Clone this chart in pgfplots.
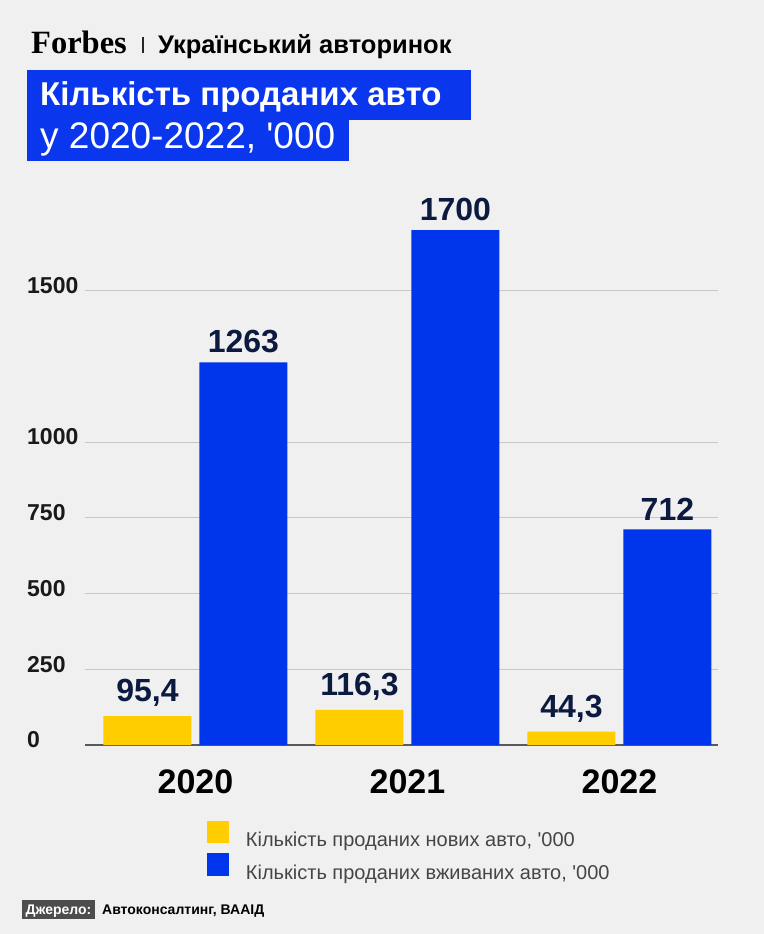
\documentclass[border=0pt]{standalone}
\usepackage{fontspec}
\setmainfont{Liberation Sans}[Ligatures=TeXOff]
\newfontfamily\forbesfont{Liberation Serif}
\usepackage{pgfplots}
\pgfplotsset{compat=1.18}
\definecolor{bg}{HTML}{F0F0F0}
\definecolor{tblue}{HTML}{0A37EE}
\definecolor{bblue}{HTML}{0036EB}
\definecolor{byellow}{HTML}{FFCD00}
\definecolor{navy}{HTML}{0C1A40}
\definecolor{legtext}{HTML}{454545}
\definecolor{srcbox}{HTML}{4D4D4D}
\begin{document}
\begin{tikzpicture}
\path[use as bounding box, fill=bg] (0,0) rectangle (764bp,-934bp);
% header
\node[anchor=base west, inner sep=0pt] at (31bp,-53bp) {\forbesfont\bfseries\fontsize{32.5bp}{32bp}\selectfont Forbes};
\draw[line width=1.6bp, black!85] (143bp,-37bp) -- (143bp,-53bp);
\node[anchor=base west, inner sep=0pt] at (158bp,-53bp) {\bfseries\fontsize{25.5bp}{25bp}\selectfont Український авторинок};
\fill[tblue] (27bp,-70bp) rectangle (471bp,-119.5bp);
\fill[tblue] (27bp,-119bp) rectangle (349bp,-161bp);
\node[anchor=base west, inner sep=0pt, text=white] at (40bp,-105bp) {\bfseries\fontsize{33bp}{33bp}\selectfont Кількість проданих авто};
\node[anchor=base west, inner sep=0pt, text=white] at (40bp,-148bp) {\fontsize{37bp}{37bp}\selectfont у 2020-2022, '000};
% source
\fill[srcbox] (22bp,-900bp) rectangle (95bp,-919bp);
\node[anchor=base, inner sep=0pt, text=white] at (58.5bp,-914bp) {\bfseries\fontsize{14bp}{14bp}\selectfont Джерело:};
\node[anchor=base west, inner sep=0pt] at (102bp,-914bp) {\bfseries\fontsize{14bp}{14bp}\selectfont Автоконсалтинг, ВААІД};
\begin{axis}[
  at={(85bp,-745bp)}, anchor=south west,
  scale only axis, width=633bp, height=515bp,
  xmin=-0.521, xmax=2.465, ymin=0, ymax=1700,
  clip=false,
  ybar, bar width=88bp,
  axis x line=bottom, axis y line=left,
  axis line style={-},
  x axis line style={draw=black!65, line width=1.5bp},
  y axis line style={draw=none},
  major tick length=0pt,
  xtick={0,1,2}, xticklabels={2020,2021,2022},
  ytick={0,250,500,750,1000,1500},
  ymajorgrids, grid style={draw=black!22, line width=0.8bp},
  /pgf/number format/.cd, use comma, 1000 sep={}, assume math mode=true,
  /pgfplots/.cd,
  xticklabel style={font=\bfseries\fontsize{34bp}{34bp}\selectfont, text=black, inner sep=0pt, anchor=north, yshift=-25bp},
  yticklabel style={font=\bfseries\fontsize{23bp}{23bp}\selectfont, text=black!90, inner sep=0pt, anchor=west, xshift=-58bp, yshift=5bp},
  nodes near coords,
  every node near coord/.append style={font=\bfseries\fontsize{32bp}{32bp}\selectfont, text=navy, anchor=south, inner sep=0pt, yshift=9bp},
  legend style={at={(0.1927,-0.147)}, anchor=north west, draw=none, fill=none, inner sep=0pt, outer sep=0pt,
    row sep=3bp, column sep=15bp, font=\fontsize{20bp}{24bp}\selectfont, text=legtext},
  legend cell align=left,
]
\addplot[fill=byellow, draw=none, bar shift=-48bp,
  legend image code/.code={\fill[byellow] (0bp,-3bp) rectangle (22bp,19.5bp);}]
  coordinates {(0,95.4) (1,116.3) (2,44.3)};
\addlegendentry{Кількість проданих нових авто, '000}
\addplot[fill=bblue, draw=none, bar shift=48bp,
  legend image code/.code={\fill[bblue] (0bp,-3bp) rectangle (22bp,19.5bp);}]
  coordinates {(0,1263) (1,1700) (2,712)};
\addlegendentry{Кількість проданих вживаних авто, '000}
\end{axis}
\end{tikzpicture}
\end{document}
